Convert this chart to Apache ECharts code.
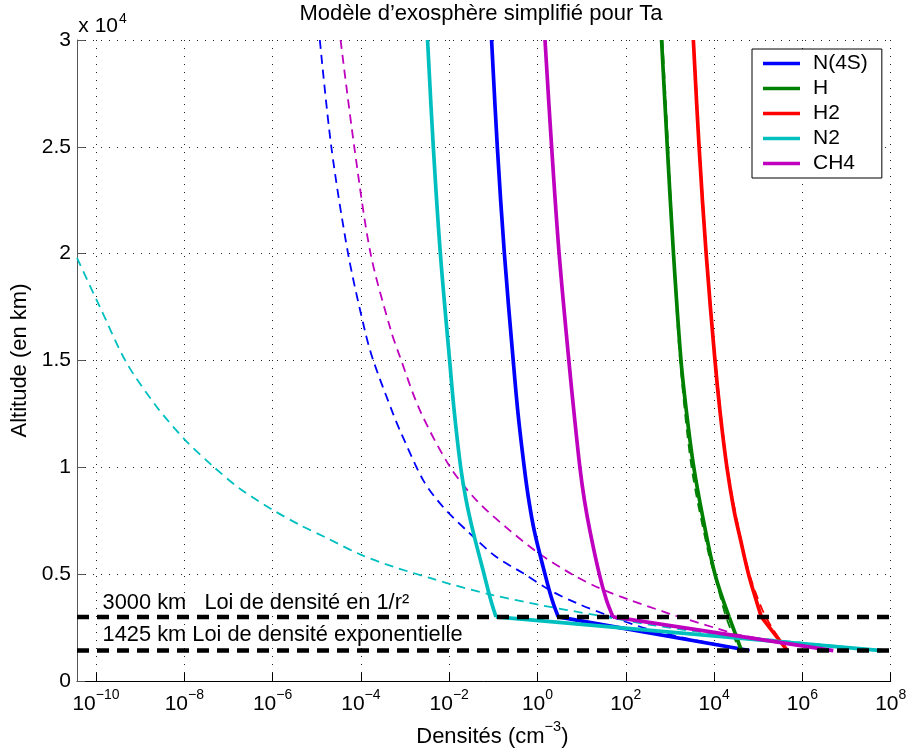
<!DOCTYPE html>
<html><head><meta charset="utf-8">
<script src="https://cdn.jsdelivr.net/npm/echarts@6/dist/echarts.min.js"></script>
<style>html,body{margin:0;padding:0;background:#fff}#c{width:908px;height:751px}</style>
</head><body><div id="c"></div>
<script>
const FONT = '"Liberation Sans", Arial, Helvetica, sans-serif';

// ---- axes ----
const xMinExp = -10.43;            // log10 of lower density bound (cm^-3)
const xMaxExp = 8;                 // log10 of upper density bound
const xTickExponents = [-10, -8, -6, -4, -2, 0, 2, 4, 6, 8];
const yMin = 0, yMax = 30000, yInterval = 5000;

// ---- species ----
const speciesNames  = ['N(4S)', 'H', 'H2', 'N2', 'CH4'];
const speciesColors = ['#0000FF', '#008000', '#FF0000', '#00BFBF', '#BF00BF'];

// ---- curves: altitude (km) / log10 density (cm^-3) ----
const n4sSolidAlt  = [30000, 25000, 20000, 15000, 12500, 10000, 8500, 7000, 5000, 3800, 3000, 1425];
const n4sSolidLog  = [-1.04, -0.91, -0.75, -0.55, -0.44, -0.30, -0.20, -0.07, 0.17, 0.33, 0.47, 4.80];
const n4sDashedAlt = [30000, 25000, 20000, 16400, 15000, 12500, 11750, 9400, 8150, 6900, 5800, 5050, 4250, 3650, 3100, 2450, 2000, 1425];
const n4sDashedLog = [-4.93, -4.67, -4.29, -3.91, -3.72, -3.27, -3.12, -2.59, -2.14, -1.53, -0.93, -0.33, 0.28, 0.88, 1.56, 2.47, 3.37, 4.80];

const hSolidAlt  = [30000, 25000, 20000, 15000, 12500, 10000, 7500, 5000, 3000, 1425];
const hSolidLog  = [2.81, 2.94, 3.08, 3.25, 3.38, 3.54, 3.76, 4.02, 4.34, 4.62];
const hDashedAlt = [30000, 25000, 20000, 15000, 10000, 6100, 4600, 3000, 1600, 1425];
const hDashedLog = [2.83, 2.96, 3.08, 3.23, 3.49, 3.86, 4.06, 4.27, 4.54, 4.58];

const h2SolidAlt  = [30000, 25000, 20000, 15000, 12500, 10000, 8000, 6600, 5000, 3800, 3000, 1425];
const h2SolidLog  = [3.53, 3.66, 3.82, 4.02, 4.14, 4.29, 4.45, 4.60, 4.78, 4.95, 5.07, 5.66];
const h2DashedAlt = [30000, 25000, 20000, 15000, 10000, 6600, 5000, 3800, 3300, 3000, 2400, 1425];
const h2DashedLog = [3.54, 3.67, 3.83, 4.03, 4.30, 4.61, 4.80, 5.00, 5.10, 5.17, 5.34, 5.66];

const n2SolidAlt  = [30000, 25000, 20000, 15000, 12500, 10000, 8500, 7000, 5000, 3800, 3000, 1425];
const n2SolidLog  = [-2.49, -2.36, -2.20, -1.99, -1.88, -1.74, -1.62, -1.46, -1.21, -1.06, -0.94, 7.80];
const n2DashedAlt = [19800, 17500, 14900, 12850, 11300, 10050, 9000, 8000, 7300, 6700, 5900, 5350, 4800, 4570, 4020, 3560, 3090, 2620, 2230, 1425];
const n2DashedLog = [-10.43, -9.91, -9.31, -8.63, -7.99, -7.35, -6.74, -5.99, -5.38, -4.78, -3.99, -3.27, -2.40, -2.03, -1.01, 0.05, 1.30, 2.60, 3.95, 7.80];

const ch4SolidAlt  = [30000, 25000, 20000, 15000, 12500, 10000, 8500, 7000, 5000, 3800, 3000, 1425];
const ch4SolidLog  = [0.17, 0.32, 0.49, 0.71, 0.83, 0.96, 1.06, 1.19, 1.40, 1.56, 1.71, 6.70];
const ch4DashedAlt = [30000, 25000, 20000, 16400, 15200, 12700, 10050, 8450, 7050, 5950, 4960, 4340, 3790, 3250, 3090, 2470, 2150, 1425];
const ch4DashedLog = [-4.46, -4.15, -3.78, -3.32, -3.12, -2.67, -1.99, -1.38, -0.63, 0.05, 0.81, 1.41, 2.09, 2.85, 3.07, 4.05, 4.58, 6.70];

// ---- boundaries ----
const boundaryAltitudes = [3000, 1425];
const boundaryLabels = ['3000 km   Loi de densité en 1/r²', '1425 km Loi de densité exponentielle'];

const titleText = 'Modèle d’exosphère simplifié pour Ta';
const yAxisTitle = 'Altitude (en km)';

// ---- build ----
const solidSets = [
  [n4sSolidAlt, n4sSolidLog], [hSolidAlt, hSolidLog], [h2SolidAlt, h2SolidLog],
  [n2SolidAlt, n2SolidLog], [ch4SolidAlt, ch4SolidLog]
];
const dashedSets = [
  [n4sDashedAlt, n4sDashedLog], [hDashedAlt, hDashedLog], [h2DashedAlt, h2DashedLog],
  [n2DashedAlt, n2DashedLog], [ch4DashedAlt, ch4DashedLog]
];
const pair = (alt, lg) => alt.map((a, i) => [lg[i], a]);
const upperBound = boundaryAltitudes[0];

const series = [];
dashedSets.forEach((s, i) => series.push({
  name: speciesNames[i] + ' (1/r²)', type: 'line', data: pair(s[0], s[1]),
  symbol: 'none', clip: true, silent: true, smooth: 0.3,
  lineStyle: { color: speciesColors[i], width: 1.8, type: [9, 6] }
}));
solidSets.forEach((s, i) => {
  const pts = pair(s[0], s[1]);
  const k = s[0].indexOf(upperBound);
  // exospheric part (above 3000 km) drawn smooth, exponential part straight
  series.push({
    name: speciesNames[i], type: 'line', data: pts.slice(0, k + 1),
    symbol: 'none', clip: true, silent: true, smooth: 0.35,
    itemStyle: { color: speciesColors[i] },
    lineStyle: { color: speciesColors[i], width: 3.7 }
  });
  series.push({
    name: speciesNames[i], type: 'line', data: pts.slice(k),
    symbol: 'none', clip: true, silent: true,
    itemStyle: { color: speciesColors[i] },
    lineStyle: { color: speciesColors[i], width: 3.7 }
  });
});
boundaryAltitudes.forEach(a => series.push({
  name: 'limite ' + a, type: 'line', data: [[xMinExp, a], [xMaxExp, a]],
  symbol: 'none', clip: true, silent: true, z: 5,
  lineStyle: { color: '#000', width: 4.5, type: [12, 8] }
}));

const expText = v => (v < 0 ? '−' + (-v) : String(v));

const option = {
  animation: false,
  backgroundColor: '#fff',
  textStyle: { fontFamily: FONT },
  grid: { left: 77, right: 17.3, top: 40, bottom: 70, containLabel: false, outerBoundsMode: 'none' },
  legend: {
    data: speciesNames.map(n => ({ name: n, icon: 'rect' })),
    orient: 'vertical', left: 752, top: 49,
    padding: [4, 14, 4, 11], itemGap: 4, itemWidth: 37, itemHeight: 3.5,
    borderColor: '#000', borderWidth: 1, backgroundColor: '#fff',
    textStyle: { fontFamily: FONT, fontSize: 21, color: '#000', padding: [0, 0, 0, 8] }
  },
  xAxis: {
    type: 'value', min: xMinExp, max: xMaxExp,
    name: '{a|Densités (cm}{s|−3}{a|)}', nameLocation: 'middle', nameGap: 37,
    nameTextStyle: {
      padding: [0, 0, 0, 17],
      rich: {
        a: { fontFamily: FONT, fontSize: 22, color: '#000', lineHeight: 28, verticalAlign: 'bottom' },
        s: { fontFamily: FONT, fontSize: 14.5, color: '#000', lineHeight: 14, verticalAlign: 'bottom', padding: [0, 0, 13, 0] }
      }
    },
    axisLine: { show: true, onZero: false, lineStyle: { color: '#000', width: 1 } },
    axisTick: { show: true, inside: true, length: 8, customValues: xTickExponents, lineStyle: { color: '#000' } },
    axisLabel: {
      customValues: xTickExponents, margin: 6,
      formatter: v => '{b|10}{s|' + expText(v) + '}',
      rich: {
        b: { fontFamily: FONT, fontSize: 21, color: '#000', lineHeight: 28, verticalAlign: 'bottom' },
        s: { fontFamily: FONT, fontSize: 14, color: '#000', lineHeight: 14, verticalAlign: 'bottom', padding: [0, 0, 13, 0] }
      }
    },
    splitLine: { show: true, lineStyle: { color: '#222', width: 1, type: [1, 7] } }
  },
  yAxis: {
    type: 'value', min: yMin, max: yMax, interval: yInterval,
    name: yAxisTitle, nameLocation: 'middle', nameGap: 41, nameRotate: 90,
    nameTextStyle: { fontFamily: FONT, fontSize: 22, color: '#000' },
    axisLine: { show: true, onZero: false, lineStyle: { color: '#555', width: 1 } },
    axisTick: { show: true, inside: true, length: 8, lineStyle: { color: '#555' } },
    axisLabel: { margin: 6, fontFamily: FONT, fontSize: 21, color: '#000', formatter: v => String(v / 10000) },
    splitLine: { show: true, lineStyle: { color: '#222', width: 1, type: [1, 7] } }
  },
  series: series
};

const chart = echarts.init(document.getElementById('c'), null, { renderer: 'canvas' });
chart.setOption(option);

// annotation anchors (data coordinates: log10 density, altitude of text centre)
const labelAnchorExp = -9.85;
const labelAnchorAlt = [3640, 2130];
const graphics = [
  { type: 'text', x: 481, y: 14.4, style: { text: titleText, font: '22px ' + FONT, fill: '#000', textAlign: 'center', textVerticalAlign: 'middle' } },
  { type: 'text', x: 78.3, y: 26.3, style: { text: 'x 10', font: '21px ' + FONT, fill: '#000', textAlign: 'left', textVerticalAlign: 'middle' } },
  { type: 'text', x: 119, y: 19.2, style: { text: '4', font: '14px ' + FONT, fill: '#000', textAlign: 'left', textVerticalAlign: 'middle' } }
];
boundaryLabels.forEach((t, i) => {
  const p = chart.convertToPixel({ gridIndex: 0 }, [labelAnchorExp, labelAnchorAlt[i]]);
  graphics.push({ type: 'text', x: p[0], y: p[1], z: 10,
    style: { text: t, font: '21.8px ' + FONT, fill: '#000', textAlign: 'left', textVerticalAlign: 'middle' } });
});
chart.setOption({ graphic: graphics });
</script></body></html>
